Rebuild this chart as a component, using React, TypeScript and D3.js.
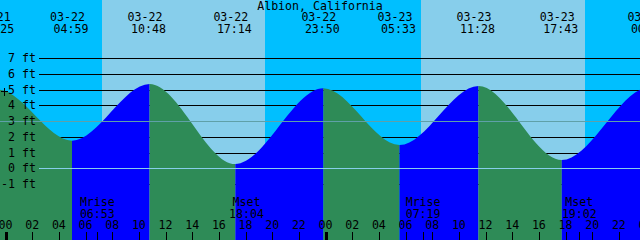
import React from "react";
import * as d3 from "d3";

const title = "Albion, California";
const tideTimes = [
  "03-21 16:40",
  "03-21 23:25",
  "03-22 04:59",
  "03-22 10:48",
  "03-22 17:14",
  "03-22 23:50",
  "03-23 05:33",
  "03-23 11:28",
  "03-23 17:43",
  "03-24 00:17",
  "03-24 06:10",
];
const tideHeights = [0.1, 5.0, 1.76, 5.37, 0.27, 5.09, 1.48, 5.24, 0.53, 5.15, 1.3];
const sunTimes = ["03-22 07:14", "03-22 19:28", "03-23 07:11", "03-23 19:29"];
const moonNames = ["Mrise", "Mset", "Mrise", "Mset"];
const moonTimes = ["03-22 06:53", "03-22 18:04", "03-23 07:19", "03-23 19:02"];
const levelTicks = [-1, 0, 1, 2, 3, 4, 5, 6, 7];
const markLevel = 5;
const msLevel = 3;
const windowStart = "03-21 23:35";
const windowEnd = "03-23 23:35";

const W = 640;
const H = 240;
const FONT = "'DejaVu Sans Mono', 'Liberation Mono', monospace";
const FS = 11.6;
const C = {
  night: "#00BFFF",
  day: "#87CEEB",
  flood: "#0000FF",
  ebb: "#2E8B57",
  datum: "#87CEEB",
  msl: "#5FA0A8",
};

const parse = (s: string) => d3.utcParse("%Y-%m-%d %H:%M")("2024-" + s) as Date;

export default function App() {
  const x = d3.scaleUtc().domain([parse(windowStart), parse(windowEnd)]).range([0, W]);
  const y = d3.scaleLinear().domain([0, 7]).range([168.3, 58.3]);
  const py = (v: number) => Math.round(y(v)) + 0.5;

  const tides = tideTimes.map((t, i) => ({ t: parse(t), h: tideHeights[i] }));
  const area = d3
    .area<{ t: Date; h: number }>()
    .x((d) => x(d.t))
    .y0(H)
    .y1((d) => y(d.h))
    .curve(d3.curveMonotoneX);
  const areaPath = area(tides) || "";

  const bounds = [parse(windowStart), ...sunTimes.map(parse), parse(windowEnd)];
  const bands = bounds.slice(0, -1).map((b, i) => ({
    x0: x(b),
    x1: x(bounds[i + 1]),
    fill: i % 2 === 0 ? C.night : C.day,
  }));

  const hours = d3.utcHour.every(2)!.range(parse("03-21 22:00"), parse("03-24 02:00"));
  const fmtH = d3.utcFormat("%H");
  const fmtD = d3.utcFormat("%m-%d");
  const fmtT = d3.utcFormat("%H:%M");

  const segs = tides.slice(0, -1).map((d, i) => ({
    x0: x(d.t),
    x1: x(tides[i + 1].t),
    fill: tides[i + 1].h > d.h ? C.flood : C.ebb,
  }));

  const labelled = tides.filter((d) => x(d.t) > -40 && x(d.t) < W + 40);
  const moons = moonTimes.map((t, i) => ({ t: parse(t), name: moonNames[i] }));

  return (
    <svg
      width={W}
      height={H}
      style={{ position: "absolute", left: 0, top: 0 }}
      fontFamily={FONT}
      fontSize={FS}
    >
      <defs>
        {segs.map((s, i) => (
          <clipPath id={"seg" + i} key={i}>
            <rect x={s.x0} y={0} width={s.x1 - s.x0} height={H} />
          </clipPath>
        ))}
      </defs>
      {bands.map((b, i) => (
        <rect key={i} x={b.x0} y={0} width={b.x1 - b.x0} height={H} fill={b.fill} shapeRendering="crispEdges" />
      ))}
      {levelTicks.map((v) => (
        <line key={v} x1={39} x2={W} y1={py(v)} y2={py(v)} stroke="#000" strokeWidth={1} shapeRendering="crispEdges" />
      ))}
      {segs.map((s, i) => (
        <path key={i} d={areaPath} fill={s.fill} clipPath={`url(#seg${i})`} />
      ))}
      <line x1={0} x2={W} y1={py(msLevel)} y2={py(msLevel)} stroke={C.msl} strokeWidth={1} shapeRendering="crispEdges" />
      <line x1={39} x2={W} y1={py(0)} y2={py(0)} stroke={C.datum} strokeWidth={1} shapeRendering="crispEdges" />
      {levelTicks.map((v) => (
        <text key={v} x={36} y={y(v) + 4} textAnchor="end" fill="#000">
          {v} ft
        </text>
      ))}
      <g stroke="#000" strokeWidth={1} shapeRendering="crispEdges">
        <line x1={1} x2={8} y1={py(markLevel) + 1} y2={py(markLevel) + 1} />
        <line x1={4.5} x2={4.5} y1={py(markLevel) - 3} y2={py(markLevel) + 5} />
      </g>
      <text x={W / 2} y={9.5} textAnchor="middle" fill="#000">
        {title}
      </text>
      {labelled.map((d, i) => (
        <g key={i} fill="#000" textAnchor="middle">
          <text x={x(d.t) - 4.5} y={21}>
            {fmtD(d.t)}
          </text>
          <text x={x(d.t) - 1} y={33}>
            {fmtT(d.t)}
          </text>
        </g>
      ))}
      {moons.map((m, i) => (
        <g key={i} fill="#000" textAnchor="middle">
          <text x={x(m.t)} y={205.5}>
            {m.name}
          </text>
          <text x={x(m.t)} y={217.5}>
            {fmtT(m.t)}
          </text>
          <line x1={Math.round(x(m.t)) + 0.5} x2={Math.round(x(m.t)) + 0.5} y1={232} y2={H} stroke="#000" shapeRendering="crispEdges" />
        </g>
      ))}
      {hours.map((h, i) => {
        const hx = x(h);
        const midnight = h.getUTCHours() === 0;
        return (
          <g key={i}>
            <text x={hx} y={228.5} textAnchor="middle" fill="#000">
              {fmtH(h)}
            </text>
            <line
              x1={Math.round(hx) + 0.5}
              x2={Math.round(hx) + 0.5}
              y1={232}
              y2={H}
              stroke="#000"
              strokeWidth={midnight ? 3 : 1}
              shapeRendering="crispEdges"
            />
          </g>
        );
      })}
    </svg>
  );
}
